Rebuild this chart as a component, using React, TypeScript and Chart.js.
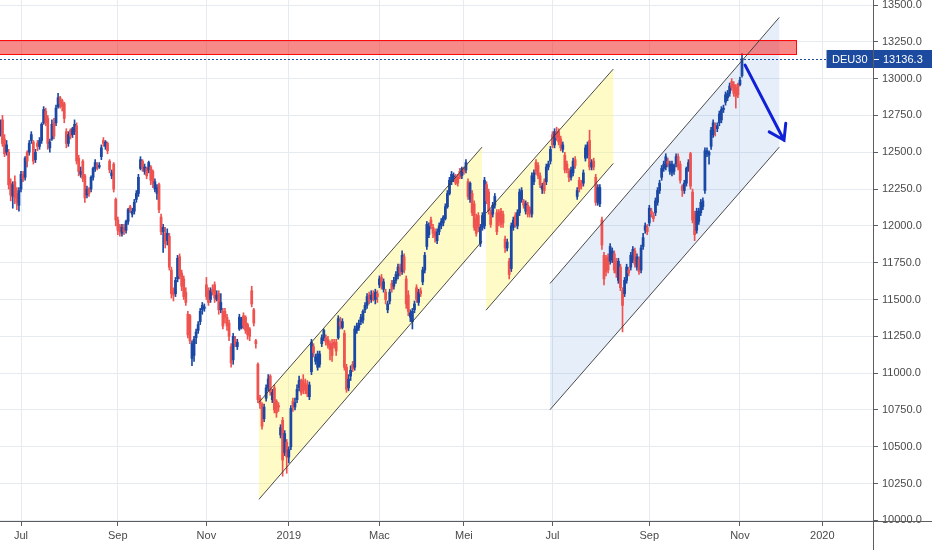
import React, { useEffect, useRef } from "react";
import { Chart, registerables } from "chart.js";

Chart.register(...registerables);

// ---- DEU30 daily candles (bar index 0 = first visible bar, mid-June 2018) ----
const opens = [
  12640,12720,12590,12500,12500,12290,12200,12300,12220,12140,
  12250,12350,12330,12500,12500,12580,12570,12450,12560,12540,
  12580,12700,12780,12730,12530,12590,12700,12700,12810,12870,
  12850,12830,12640,12560,12650,12620,12640,12680,12460,12350,
  12440,12340,12210,12250,12250,12330,12390,12410,12400,12470,
  12580,12540,12560,12440,12340,12420,12180,12040,12000,11950,
  11990,11970,12030,12130,12080,12100,12180,12220,12390,12440,
  12370,12390,12380,12400,12370,12250,12220,12280,12060,11960,
  11950,11900,11930,11700,11560,11540,11640,11790,11680,11640,
  11550,11400,11390,11100,11120,11240,11290,11350,11430,11440,
  11600,11560,11500,11570,11600,11500,11540,11430,11420,11420,
  11380,11340,11180,11090,11230,11180,11300,11310,11390,11380,
  11330,11300,11560,11430,11220,11060,10830,10790,10690,10830,
  10900,10980,10820,10900,10810,10780,10580,10680,10460,10530,
  10430,10500,10810,10770,10820,10900,10940,10950,10930,10920,
  10840,11010,11180,11080,11040,11060,11200,11240,11240,11230,
  11200,11200,11210,11210,11240,11350,11310,11270,11040,10900,
  10980,11060,11040,11290,11310,11350,11360,11430,11460,11530,
  11500,11540,11500,11540,11600,11650,11570,11550,11430,11490,
  11610,11590,11630,11660,11720,11690,11790,11640,11530,11380,
  11350,11430,11580,11480,11560,11620,11700,11860,11940,12040,
  11990,11960,11900,11960,12000,12020,12050,12130,12220,12300,
  12320,12330,12330,12370,12340,12390,12380,12300,12180,12220,
  12150,12050,12070,11880,11990,12000,12280,12230,12090,12080,
  12140,12090,12090,12100,12080,11910,11850,11760,11710,11990,
  12070,12000,12090,12180,12170,12100,12140,12110,12080,12300,
  12430,12410,12340,12250,12300,12300,12400,12440,12620,12550,
  12640,12640,12590,12520,12480,12420,12370,12330,12360,12450,
  12200,12310,12290,12290,12460,12480,12580,12400,12440,12330,
  12160,12150,12040,11800,11780,11790,11760,11770,11810,11760,
  11630,11720,11560,11540,11630,11700,11720,11770,11830,11720,
  11770,11700,11860,11970,11990,12020,12100,12070,12090,12160,
  12240,12330,12390,12400,12440,12370,12360,12370,12420,12470,
  12420,12270,12240,12290,12390,12490,12230,12080,11970,12030,
  12090,12130,12240,12490,12480,12540,12620,12680,12660,12700,
  12720,12790,12840,12870,12900,12980,12960,12940,12960,12960,13020,
];

const highs = [
  12720,12750,12620,12580,12520,12320,12300,12340,12260,12260,
  12370,12370,12470,12510,12580,12640,12580,12520,12580,12600,
  12700,12810,12800,12750,12590,12720,12730,12820,12900,12880,
  12860,12840,12660,12640,12660,12670,12720,12700,12480,12400,
  12450,12350,12270,12260,12340,12400,12450,12430,12430,12550,
  12600,12580,12570,12450,12380,12430,12190,12060,12010,12010,
  12010,12040,12120,12140,12120,12180,12240,12350,12470,12450,
  12420,12400,12440,12410,12380,12320,12280,12290,12080,12010,
  11990,11980,11950,11720,11580,11650,11800,11810,11700,11660,
  11580,11420,11400,11220,11250,11300,11350,11440,11480,11470,
  11650,11580,11580,11600,11620,11560,11560,11540,11440,11440,
  11400,11360,11200,11270,11250,11230,11400,11380,11410,11390,
  11340,11310,11590,11440,11230,11070,10850,10800,10790,10920,
  10990,10990,10890,10920,10820,10800,10650,10700,10610,10550,
  10500,10780,10830,10830,10920,10980,10960,10990,10960,10950,
  10940,11230,11200,11130,11150,11150,11260,11300,11260,11250,
  11220,11230,11230,11230,11390,11380,11370,11290,11060,10990,
  11050,11080,11320,11340,11360,11400,11430,11480,11540,11550,
  11560,11560,11570,11560,11660,11670,11640,11570,11490,11570,
  11630,11650,11690,11740,11740,11830,11810,11660,11560,11430,
  11440,11490,11600,11570,11580,11720,11820,12030,12020,12060,
  12010,11980,11980,12020,12050,12070,12150,12240,12330,12370,
  12360,12350,12350,12390,12400,12400,12450,12320,12300,12240,
  12170,12080,12090,12010,12090,12330,12300,12250,12110,12160,
  12220,12110,12110,12120,12100,11930,11910,11780,12020,12060,
  12090,12110,12250,12260,12180,12170,12160,12130,12360,12380,
  12450,12430,12360,12290,12320,12420,12440,12540,12640,12660,
  12670,12660,12610,12570,12500,12440,12390,12400,12460,12470,
  12260,12330,12310,12380,12550,12570,12650,12450,12460,12350,
  12280,12280,12060,11820,11800,11810,11880,11850,11830,11780,
  11780,11740,11580,11650,11740,11720,11820,11860,11850,11810,
  11790,11870,11950,12020,12010,12140,12120,12090,12190,12260,
  12310,12410,12440,12490,12460,12440,12440,12420,12490,12490,
  12440,12280,12310,12400,12450,12500,12250,12100,12120,12120,
  12180,12190,12530,12530,12510,12670,12720,12700,12700,12780,
  12810,12820,12910,12920,12970,13000,12980,12960,12970,13010,13170,
];

const lows = [
  12610,12540,12470,12480,12250,12170,12120,12150,12110,12100,
  12230,12300,12310,12400,12480,12560,12420,12430,12510,12520,
  12560,12690,12680,12520,12500,12580,12590,12680,12800,12800,
  12780,12700,12530,12540,12590,12600,12620,12420,12340,12330,
  12300,12160,12190,12200,12230,12310,12370,12380,12390,12450,
  12540,12520,12490,12360,12320,12230,12000,11940,11930,11930,
  11940,11950,12010,12090,12060,12080,12160,12200,12380,12370,
  12350,12320,12360,12280,12260,12230,12180,12090,11940,11820,
  11850,11870,11700,11510,11490,11520,11620,11640,11560,11500,
  11460,11240,11200,11050,11080,11200,11270,11330,11400,11420,
  11500,11460,11480,11530,11480,11490,11400,11410,11300,11340,
  11290,11220,11040,11060,11180,11160,11290,11300,11300,11270,
  11230,11220,11450,11320,11170,10800,10760,10620,10670,10810,
  10880,10850,10800,10730,10700,10740,10560,10300,10440,10320,
  10390,10480,10740,10750,10800,10880,10850,10860,10860,10840,
  10820,10990,11110,11060,11020,11040,11180,11220,11190,11170,
  11090,11080,11170,11120,11230,11300,11300,11020,10870,10880,
  10950,11010,11020,11270,11290,11330,11340,11410,11440,11470,
  11480,11490,11470,11480,11580,11570,11550,11470,11410,11470,
  11550,11570,11610,11640,11660,11670,11680,11440,11390,11350,
  11300,11410,11480,11460,11520,11600,11680,11840,11920,11980,
  11920,11890,11880,11940,11980,12000,12040,12120,12210,12280,
  12300,12280,12270,12320,12320,12350,12360,12180,12160,12070,
  11970,11930,11960,11860,11970,11980,12150,12080,11990,12060,
  12120,11940,12000,11990,11990,11820,11830,11640,11690,11970,
  11990,11980,12070,12160,12120,12080,12060,12060,12060,12280,
  12350,12320,12260,12220,12220,12280,12380,12420,12530,12530,
  12580,12550,12510,12500,12360,12360,12300,12310,12340,12390,
  12180,12230,12250,12270,12440,12460,12380,12380,12380,12140,
  12140,12130,11840,11600,11660,11680,11740,11750,11680,11650,
  11610,11560,11280,11520,11610,11660,11700,11750,11720,11700,
  11670,11680,11840,11950,11940,12000,12060,12030,12070,12140,
  12220,12310,12370,12380,12400,12350,12340,12350,12400,12380,
  12290,12200,12220,12270,12370,12250,12020,11900,11950,12010,
  12070,12110,12220,12470,12420,12520,12600,12610,12640,12680,
  12700,12770,12820,12850,12880,12920,12880,12800,12870,12950,13010,
];

const closes = [
  12690,12560,12490,12550,12280,12210,12280,12190,12160,12240,
  12350,12320,12460,12440,12560,12620,12440,12500,12540,12580,
  12690,12790,12700,12560,12570,12690,12610,12800,12870,12830,
  12810,12730,12560,12620,12610,12660,12690,12440,12370,12370,
  12320,12190,12250,12220,12330,12390,12430,12400,12410,12530,
  12560,12570,12510,12380,12360,12250,12040,11970,11960,11990,
  11960,12030,12110,12110,12100,12160,12220,12330,12450,12390,
  12400,12340,12430,12310,12290,12300,12260,12110,11960,11990,
  11880,11950,11720,11540,11530,11630,11780,11660,11590,11520,
  11480,11260,11220,11200,11230,11280,11330,11420,11460,11450,
  11520,11480,11560,11550,11510,11530,11430,11480,11320,11380,
  11320,11250,11070,11250,11200,11210,11380,11370,11320,11290,
  11260,11250,11470,11340,11200,10820,10790,10640,10770,10900,
  10960,10870,10870,10750,10730,10770,10630,10410,10590,10430,
  10480,10760,10770,10800,10890,10950,10870,10880,10890,10860,
  10920,11210,11140,11110,11130,11130,11240,11290,11210,11190,
  11160,11120,11190,11150,11370,11320,11350,11040,10890,10960,
  11020,11030,11300,11320,11340,11380,11420,11460,11520,11490,
  11530,11510,11550,11520,11640,11590,11620,11500,11470,11550,
  11570,11630,11670,11720,11680,11800,11700,11470,11420,11410,
  11420,11470,11500,11550,11540,11700,11800,12010,12000,12000,
  11950,11930,11960,12000,12030,12060,12130,12220,12310,12350,
  12340,12290,12290,12330,12390,12370,12430,12200,12290,12090,
  11990,11950,11990,11990,12070,12310,12170,12100,12010,12140,
  12200,11960,12030,12010,12020,11850,11890,11670,12000,12040,
  12010,12090,12230,12240,12140,12150,12080,12090,12340,12360,
  12370,12340,12280,12270,12240,12400,12420,12520,12550,12640,
  12600,12570,12530,12550,12380,12380,12330,12380,12440,12410,
  12240,12250,12270,12360,12530,12550,12400,12430,12400,12160,
  12260,12260,11870,11640,11690,11700,11860,11830,11700,11680,
  11760,11580,11460,11630,11720,11680,11800,11840,11740,11790,
  11690,11850,11920,12000,11960,12120,12080,12050,12170,12240,
  12290,12390,12420,12470,12420,12420,12420,12410,12470,12400,
  12310,12240,12290,12390,12430,12270,12040,11940,12100,12100,
  12160,12170,12510,12510,12500,12650,12700,12660,12680,12760,
  12790,12800,12890,12900,12950,12940,12900,12880,12890,12990,13136.3,
];

// ---- axes ----
const xTickBars = [10, 57, 100, 140, 184, 225, 268, 315, 359, 399];
const xTickLabels = ["Jul", "Sep", "Nov", "2019", "Mac", "Mei", "Jul", "Sep", "Nov", "2020"];
const yTicks = [10000, 10250, 10500, 10750, 11000, 11250, 11500, 11750, 12000, 12250, 12500, 12750, 13000, 13250, 13500];
const symbol = "DEU30";

// ---- drawings (bar index / price space) ----
const channelBars = [
  [125.5, 233.8],
  [235.7, 297.5],
  [266.8, 378.1],
];
const channelUpper = [
  [10802, 12535],
  [12086, 13065],
  [11609, 13416],
];
const channelLower = [
  [10143, 11896],
  [11427, 12424],
  [10752, 12535],
];
const channelKind = ["yellow", "yellow", "blue"];
const zoneBars = [-5, 386.2];
const zonePrices = [13167, 13262];
const arrowBars = [361.5, 380.4];
const arrowPrices = [13092, 12582];

const UP = "#1b48a4";
const DOWN = "#ef5350";
const TAG = "#1c4a9e";
const FONT = "'Liberation Sans', Arial, sans-serif";
const fills: Record<string, string> = {
  yellow: "rgba(255, 245, 100, 0.36)",
  blue: "rgba(60, 120, 210, 0.13)",
};

const overlay = {
  id: "overlay",
  beforeDatasetsDraw(chart: any) {
    const { ctx, chartArea: a, scales } = chart;
    const X = (v: number) => scales.x.getPixelForValue(v);
    const Y = (v: number) => scales.y.getPixelForValue(v);
    ctx.save();
    ctx.beginPath();
    ctx.rect(a.left, a.top, a.right - a.left, a.bottom - a.top);
    ctx.clip();
    channelBars.forEach((b, k) => {
      const x1 = X(b[0]);
      const x2 = X(b[1]);
      ctx.fillStyle = fills[channelKind[k]];
      ctx.beginPath();
      ctx.moveTo(x1, Y(channelUpper[k][0]));
      ctx.lineTo(x2, Y(channelUpper[k][1]));
      ctx.lineTo(x2, Y(channelLower[k][1]));
      ctx.lineTo(x1, Y(channelLower[k][0]));
      ctx.closePath();
      ctx.fill();
    });
    ctx.restore();
  },
  afterDatasetsDraw(chart: any) {
    const { ctx, chartArea: a, scales } = chart;
    const X = (v: number) => scales.x.getPixelForValue(v);
    const Y = (v: number) => scales.y.getPixelForValue(v);
    ctx.save();
    ctx.beginPath();
    ctx.rect(a.left, a.top, a.right - a.left, a.bottom - a.top);
    ctx.clip();
    // resistance zone
    {
      const x1 = X(zoneBars[0]);
      const x2 = Math.round(X(zoneBars[1])) + 0.5;
      const y1 = Math.round(Y(zonePrices[1])) + 0.5;
      const y2 = Math.round(Y(zonePrices[0])) + 0.5;
      ctx.fillStyle = "rgba(240, 40, 40, 0.55)";
      ctx.fillRect(x1, y1, x2 - x1, y2 - y1);
      ctx.strokeStyle = "rgba(255, 0, 0, 0.95)";
      ctx.lineWidth = 1;
      ctx.strokeRect(x1, y1, x2 - x1, y2 - y1);
    }
    // channel lines
    ctx.strokeStyle = "rgba(55, 55, 55, 0.9)";
    ctx.lineWidth = 1;
    channelBars.forEach((b, k) => {
      const x1 = X(b[0]);
      const x2 = X(b[1]);
      ctx.beginPath();
      ctx.moveTo(x1, Y(channelUpper[k][0]));
      ctx.lineTo(x2, Y(channelUpper[k][1]));
      ctx.moveTo(x1, Y(channelLower[k][0]));
      ctx.lineTo(x2, Y(channelLower[k][1]));
      ctx.stroke();
    });
    // last price dotted line
    const last = closes[closes.length - 1];
    const py = Math.round(Y(last)) + 0.5;
    ctx.strokeStyle = TAG;
    ctx.setLineDash([2, 2]);
    ctx.beginPath();
    ctx.moveTo(a.left, py);
    ctx.lineTo(a.right, py);
    ctx.stroke();
    ctx.setLineDash([]);
    // arrow
    const ax1 = X(arrowBars[0]);
    const ay1 = Y(arrowPrices[0]);
    const ax2 = X(arrowBars[1]);
    const ay2 = Y(arrowPrices[1]);
    ctx.strokeStyle = "#1020d8";
    ctx.lineWidth = 3;
    ctx.lineCap = "round";
    ctx.beginPath();
    ctx.moveTo(ax1, ay1);
    ctx.lineTo(ax2, ay2);
    const ang = Math.atan2(ay1 - ay2, ax1 - ax2);
    const L = 17;
    const spread = 0.58;
    ctx.moveTo(ax2 + L * Math.cos(ang + spread), ay2 + L * Math.sin(ang + spread));
    ctx.lineTo(ax2, ay2);
    ctx.lineTo(ax2 + L * Math.cos(ang - spread), ay2 + L * Math.sin(ang - spread));
    ctx.stroke();
    ctx.restore();
  },
  afterDraw(chart: any) {
    const { ctx, chartArea: a, scales, width, height } = chart;
    const Y = (v: number) => scales.y.getPixelForValue(v);
    ctx.save();
    // axis lines
    ctx.strokeStyle = "#5d5d5d";
    ctx.lineWidth = 1;
    ctx.beginPath();
    const bx = Math.round(a.bottom) + 0.5;
    ctx.moveTo(0, bx);
    ctx.lineTo(width, bx);
    const rx = Math.round(a.right) + 0.5;
    ctx.moveTo(rx, 0);
    ctx.lineTo(rx, height);
    ctx.stroke();
    // last price tags
    const last = closes[closes.length - 1];
    const py = Math.round(Y(last));
    ctx.font = `11px ${FONT}`;
    const sw = ctx.measureText(symbol).width + 11;
    const h = 18;
    ctx.fillStyle = TAG;
    ctx.fillRect(a.right - sw, py - h / 2, sw, h);
    ctx.fillRect(a.right + 1, py - h / 2, width - a.right - 1, h);
    ctx.fillStyle = "#ffffff";
    ctx.textBaseline = "middle";
    ctx.textAlign = "center";
    ctx.fillText(symbol, a.right - sw / 2, py + 0.5);
    ctx.textAlign = "left";
    ctx.fillText(last.toFixed(1), a.right + 10, py + 0.5);
    ctx.strokeStyle = "#ffffff";
    ctx.beginPath();
    ctx.moveTo(a.right + 1, py + 0.5);
    ctx.lineTo(a.right + 6, py + 0.5);
    ctx.stroke();
    ctx.restore();
  },
};

export default function App() {
  const ref = useRef<HTMLCanvasElement>(null);
  useEffect(() => {
    const canvas = ref.current;
    if (!canvas) return;
    const idx = closes.map((_, i) => i);
    const colors = idx.map((i) => (closes[i] >= opens[i] ? UP : DOWN));
    const wicks = idx.map((i) => ({ x: i, y: [lows[i], highs[i]] }));
    const bodies = idx.map((i) => ({ x: i, y: [opens[i], closes[i]] }));
    const barPx = 2.06;
    const chart = new Chart(canvas, {
      type: "bar",
      data: {
        datasets: [
          {
            data: wicks as any,
            backgroundColor: colors,
            borderWidth: 0,
            barThickness: 1,
            grouped: false,
            order: 2,
          } as any,
          {
            data: bodies as any,
            backgroundColor: colors,
            borderWidth: 0,
            barThickness: 2.1,
            minBarLength: 1,
            grouped: false,
            order: 1,
          } as any,
        ],
      },
      options: {
        animation: false,
        responsive: false,
        events: [],
        layout: { padding: 0 },
        plugins: { legend: { display: false }, tooltip: { enabled: false } },
        scales: {
          x: {
            type: "linear",
            offset: false,
            min: -0.4 / barPx,
            max: -0.4 / barPx + 873 / barPx,
            grid: { offset: false, color: "#e5ebf1", tickColor: "#5d5d5d", tickLength: 5, drawTicks: true },
            border: { display: false },
            afterBuildTicks: (s: any) => {
              s.ticks = xTickBars.map((v) => ({ value: v }));
            },
            afterFit: (s: any) => {
              s.height = 29;
              s.paddingLeft = 0;
              s.paddingRight = 0;
              s.paddingTop = 0;
              s.paddingBottom = 0;
            },
            ticks: {
              autoSkip: false,
              maxRotation: 0,
              minRotation: 0,
              padding: 3,
              color: "#4a4a4a",
              font: { family: FONT, size: 11 },
              callback: (_v: any, i: number) => xTickLabels[i] ?? "",
            },
          },
          y: {
            type: "linear",
            position: "right",
            min: 9996,
            max: 13534,
            grid: { color: "#e5ebf1", tickColor: "#5d5d5d", tickLength: 5, drawTicks: true },
            border: { display: false },
            afterBuildTicks: (s: any) => {
              s.ticks = yTicks.map((v) => ({ value: v }));
            },
            afterFit: (s: any) => {
              s.width = 59;
              s.paddingLeft = 0;
              s.paddingRight = 0;
              s.paddingTop = 0;
              s.paddingBottom = 0;
            },
            ticks: {
              padding: 4,
              color: "#4a4a4a",
              font: { family: FONT, size: 11 },
              callback: (v: any) => Number(v).toFixed(1),
            },
          },
        },
      },
      plugins: [overlay],
    });
    return () => chart.destroy();
  }, []);
  return (
    <div style={{ position: "fixed", left: 0, top: 0, width: 932, height: 550, background: "#ffffff" }}>
      <canvas ref={ref} width={932} height={550} style={{ display: "block", width: 932, height: 550 }} />
    </div>
  );
}
